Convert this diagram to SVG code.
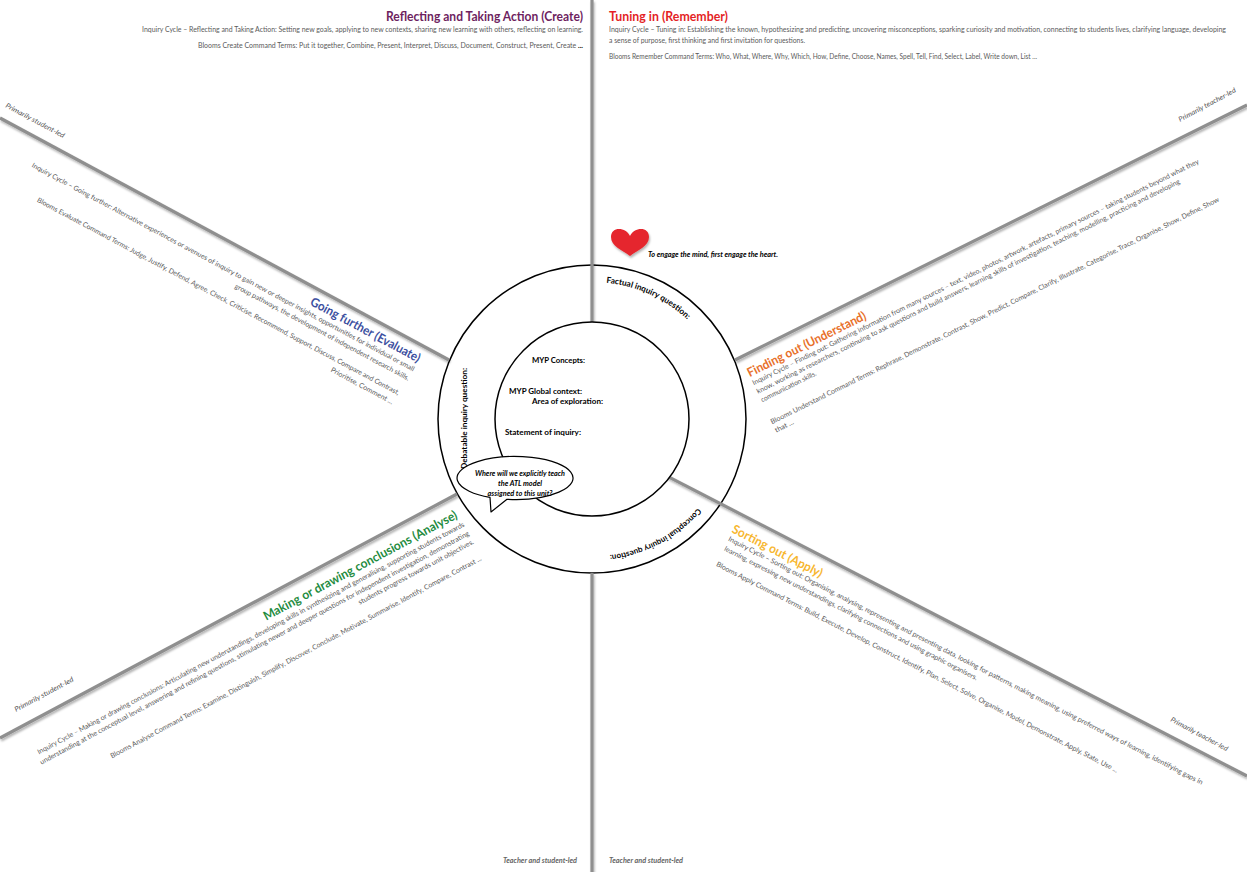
<svg xmlns="http://www.w3.org/2000/svg" width="1247" height="872" viewBox="0 0 1247 872">
<style>
text{font-family:Lato,'Liberation Sans',sans-serif}
.body{font-size:7px;fill:#5a5a5a}
.ttl{font-size:12.5px;font-weight:700}
.lbl{font-size:8px;font-weight:700;fill:#000}
.it{font-size:7px;font-style:italic;fill:#555}
.bub{font-size:7px;font-style:italic;font-weight:700;fill:#000}
.div{stroke:#8f8f8f;stroke-width:3.2;fill:none;stroke-linecap:butt}
.ring{fill:#fff;stroke:#000;stroke-width:1.5}
</style>
<defs>
<filter id="sh" filterUnits="userSpaceOnUse" x="0" y="0" width="1247" height="872">
<feDropShadow dx="1" dy="2" stdDeviation="1.2" flood-color="#000" flood-opacity="0.3"/>
</filter>
</defs>

<circle id="outer-circle" class="ring" cx="592" cy="419" r="154"/>

<g id="connectors" filter="url(#sh)">
<line class="div" x1="592" y1="0" x2="592" y2="330"/>
<line class="div" x1="592" y1="573" x2="592" y2="872"/>
<line class="div" x1="0" y1="118" x2="449" y2="360"/>
<line class="div" x1="1247" y1="105" x2="735" y2="360"/>
<line class="div" x1="655" y1="469.8" x2="1247" y2="776"/>
<line class="div" x1="0" y1="738" x2="457" y2="494"/>
</g>

<g id="center">
<circle id="inner-circle" class="ring" cx="592" cy="419" r="97"/>
<text class="lbl" x="532" y="363" textLength="53" lengthAdjust="spacingAndGlyphs">MYP Concepts:</text>
<text class="lbl" x="509" y="394" textLength="73" lengthAdjust="spacingAndGlyphs">MYP Global context:</text>
<text class="lbl" x="532" y="404" textLength="71" lengthAdjust="spacingAndGlyphs">Area of exploration:</text>
<text class="lbl" x="505" y="435" textLength="76" lengthAdjust="spacingAndGlyphs">Statement of inquiry:</text>
</g>

<g id="ring-questions">
<path id="arcTop" d="M 606.3 282.7 A 137 137 0 0 1 702 336" fill="none"/>
<path id="arcBot" d="M 697.8 508 A 137 137 0 0 1 590 556" fill="none"/>
<text class="lbl" style="font-size:8.3px"><textPath href="#arcTop">Factual inquiry question:</textPath></text>
<text class="lbl" style="font-size:8px"><textPath href="#arcBot">Conceptual inquiry question:</textPath></text>
<text class="lbl" transform="translate(467,469) rotate(-90)" x="0" y="0" textLength="101" lengthAdjust="spacingAndGlyphs">Debatable inquiry question:</text>
</g>

<g id="atl-bubble">
<path d="M 507 499.3 A 58 21.5 0 1 0 490 497.4 L 491 512 Z" fill="#fff" stroke="#000" stroke-width="1.2" stroke-linejoin="round"/>
<text class="bub" x="520" y="476" text-anchor="middle" textLength="90" lengthAdjust="spacingAndGlyphs">Where will we explicitly teach</text>
<text class="bub" x="520" y="486" text-anchor="middle" textLength="44" lengthAdjust="spacingAndGlyphs">the ATL model</text>
<text class="bub" x="520" y="496" text-anchor="middle" textLength="65" lengthAdjust="spacingAndGlyphs">assigned to this unit?</text>
</g>

<g id="heart">
<path d="M630,236 C626,227 611,226 611,237 C611,246 622,250 630,256 C638,250 649,246 649,237 C649,226 634,227 630,236 Z" fill="#e5272d" filter="url(#sh)"/>
<text class="bub" x="648" y="257" textLength="130" lengthAdjust="spacingAndGlyphs">To engage the mind, first engage the heart.</text>
</g>

<g id="create">
<text class="ttl" x="386" y="21" fill="#6e1f5f" textLength="197" lengthAdjust="spacingAndGlyphs">Reflecting and Taking Action (Create)</text>
<text class="body" x="142" y="32" textLength="441" lengthAdjust="spacingAndGlyphs">Inquiry Cycle – Reflecting and Taking Action: Setting new goals, applying to new contexts, sharing new learning with others, reflecting on learning.</text>
<text class="body" x="198" y="48" textLength="385" lengthAdjust="spacingAndGlyphs">Blooms Create Command Terms: Put it together, Combine, Present, Interpret, Discuss, Document, Construct, Present, Create <tspan font-weight="700" fill="#000">...</tspan></text>
</g>

<g id="remember">
<text class="ttl" x="609" y="21" fill="#e41f26" textLength="119" lengthAdjust="spacingAndGlyphs">Tuning in (Remember)</text>
<text class="body" x="609" y="32" textLength="617" lengthAdjust="spacingAndGlyphs">Inquiry Cycle – Tuning in: Establishing the known, hypothesizing and predicting, uncovering misconceptions, sparking curiosity and motivation, connecting to students lives, clarifying language, developing</text>
<text class="body" x="609" y="42.5" textLength="196" lengthAdjust="spacingAndGlyphs">a sense of purpose, first thinking and first invitation for questions.</text>
<text class="body" x="609" y="59" textLength="428" lengthAdjust="spacingAndGlyphs">Blooms Remember Command Terms: Who, What, Where, Why, Which, How, Define, Choose, Names, Spell, Tell, Find, Select, Label, Write down, List ...</text>
</g>

<g id="evaluate" transform="translate(420,343.5) rotate(28.2)">
<text class="ttl" x="-116" y="18" fill="#3c4fa0" textLength="123" lengthAdjust="spacingAndGlyphs">Going further (Evaluate)</text>
<text class="body" x="-426" y="28" textLength="433" lengthAdjust="spacingAndGlyphs">Inquiry Cycle – Going further: Alternative experiences or avenues of inquiry to gain new or deeper insights, opportunities for individual or small</text>
<text class="body" x="-190" y="38.5" textLength="197" lengthAdjust="spacingAndGlyphs">group pathways, the development of independent research skills.</text>
<text class="body" x="-405" y="56" textLength="410" lengthAdjust="spacingAndGlyphs">Blooms Evaluate Command Terms: Judge, Justify, Defend, Agree, Check, Criticise, Recommend, Support, Discuss, Compare and Contrast,</text>
<text class="body" x="-66" y="67" textLength="70" lengthAdjust="spacingAndGlyphs">Prioritise, Comment ...</text>
</g>

<g id="understand" transform="translate(740,357.5) rotate(-26.5)">
<text class="ttl" x="0" y="22" fill="#e8702a" textLength="131" lengthAdjust="spacingAndGlyphs">Finding out (Understand)</text>
<text class="body" x="0" y="31" textLength="498" lengthAdjust="spacingAndGlyphs">Inquiry Cycle – Finding out: Gathering information from many sources – text, video, photos, artwork, artefacts, primary sources – taking students beyond what they</text>
<text class="body" x="0" y="40.5" textLength="472" lengthAdjust="spacingAndGlyphs">know, working as researchers, continuing to ask questions and build answers, learning skills of investigation, teaching, modelling, practicing and developing</text>
<text class="body" x="0" y="50" textLength="61" lengthAdjust="spacingAndGlyphs">communication skills.</text>
<text class="body" x="-1" y="74" textLength="500" lengthAdjust="spacingAndGlyphs">Blooms Understand Command Terms: Rephrase, Demonstrate, Contrast, Show, Predict, Compare, Clarify, Illustrate, Categorise, Trace, Organise, Show, Define, Show</text>
<text class="body" x="-1" y="83.5" textLength="20" lengthAdjust="spacingAndGlyphs">that ...</text>
</g>

<g id="apply" transform="translate(731,532) rotate(27.3)">
<text class="ttl" x="0" y="0" fill="#f7b731" textLength="100" lengthAdjust="spacingAndGlyphs">Sorting out (Apply)</text>
<text class="body" x="1" y="9" textLength="533" lengthAdjust="spacingAndGlyphs">Inquiry Cycle – Sorting out: Organising, analysing, representing and presenting data, looking for patterns, making meaning, using preferred ways of learning, identifying gaps in</text>
<text class="body" x="2" y="19.5" textLength="284" lengthAdjust="spacingAndGlyphs">learning, expressing new understandings, clarifying connections and using graphic organisers.</text>
<text class="body" x="2" y="37" textLength="451" lengthAdjust="spacingAndGlyphs">Blooms Apply Command Terms: Build, Execute, Develop, Construct, Identify, Plan, Select, Solve, Organise, Model, Demonstrate, Apply, State, Use ...</text>
</g>

<g id="analyse" transform="translate(465,526) rotate(-28.2)">
<text class="ttl" x="-220" y="-10.5" fill="#1f8c3f" textLength="218" lengthAdjust="spacingAndGlyphs">Making or drawing conclusions (Analyse)</text>
<text class="body" x="-483.5" y="0" textLength="483.5" lengthAdjust="spacingAndGlyphs">Inquiry Cycle – Making or drawing conclusions: Articulating new understandings, developing skills in synthesizing and generalising, supporting students towards</text>
<text class="body" x="-486" y="10.2" textLength="486" lengthAdjust="spacingAndGlyphs">understanding at the conceptual level, answering and refining questions, stimulating newer and deeper questions for independent investigation, demonstrating</text>
<text class="body" x="-130" y="19.7" textLength="130" lengthAdjust="spacingAndGlyphs">students progress towards unit objectives.</text>
<text class="body" x="-421" y="38" textLength="420" lengthAdjust="spacingAndGlyphs">Blooms Analyse Command Terms: Examine, Distinguish, Simplify, Discover, Conclude, Motivate, Summarise, Identify, Compare, Contrast ...</text>
</g>

<g id="leads">
<text class="it" transform="translate(5,107) rotate(28.2)" textLength="66" lengthAdjust="spacingAndGlyphs">Primarily student-led</text>
<text class="it" transform="translate(16,712) rotate(-28.2)" textLength="66" lengthAdjust="spacingAndGlyphs">Primarily student-led</text>
<text class="it" transform="translate(1180,122) rotate(-28.2)" textLength="64" lengthAdjust="spacingAndGlyphs">Primarily teacher-led</text>
<text class="it" transform="translate(1170,721) rotate(28.2)" textLength="64" lengthAdjust="spacingAndGlyphs">Primarily teacher-led</text>
<text class="it" x="503" y="863" font-weight="700" textLength="74" lengthAdjust="spacingAndGlyphs" style="fill:#666">Teacher and student-led</text>
<text class="it" x="609" y="863" font-weight="700" textLength="74" lengthAdjust="spacingAndGlyphs" style="fill:#666">Teacher and student-led</text>
</g>
</svg>
